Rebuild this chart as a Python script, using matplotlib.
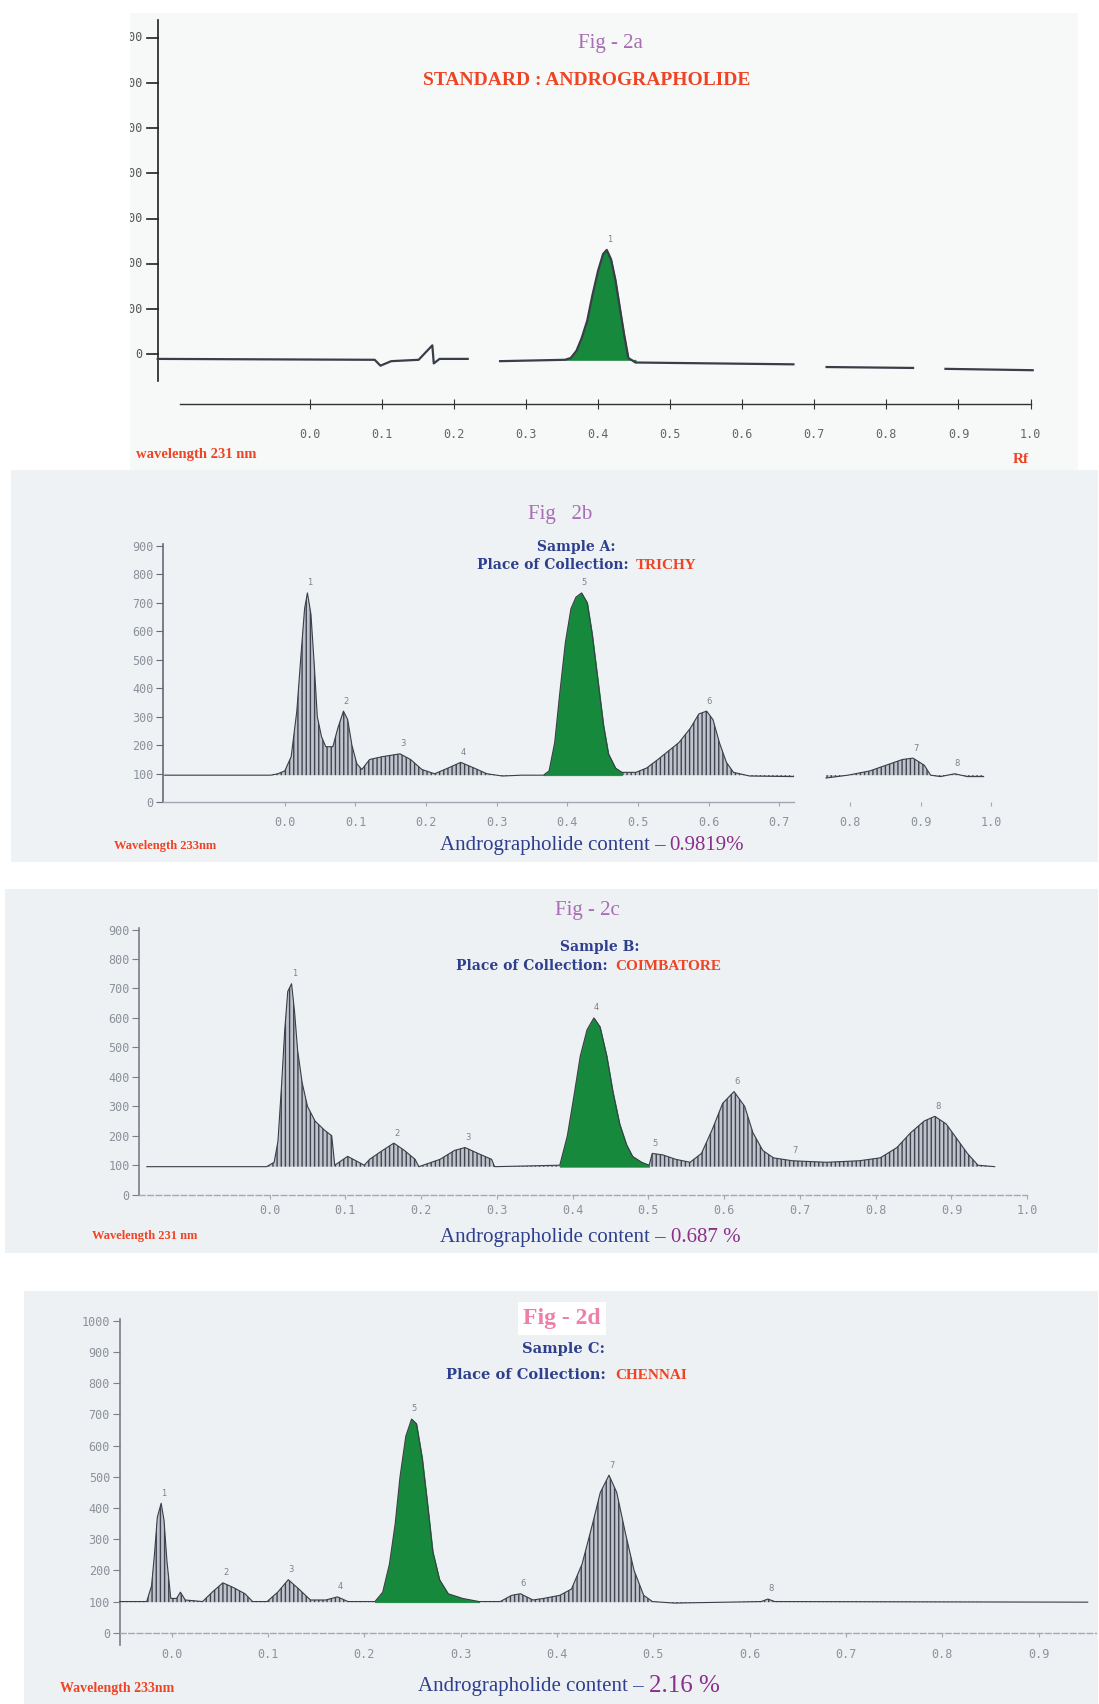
import numpy as np
import matplotlib.pyplot as plt
from matplotlib.patches import Rectangle

plt.rcParams['hatch.linewidth'] = 1.0
plt.rcParams['hatch.color'] = '#3f4450'

nan = np.nan

# ---------------- data ----------------
rf_ticks = [0.0, 0.1, 0.2, 0.3, 0.4, 0.5, 0.6, 0.7, 0.8, 0.9, 1.0]

# fig 2a - standard andrographolide (nan = gap in the trace)
a_rf = [-0.211, 0.09, 0.098, 0.113, 0.151, 0.17, 0.172, 0.18, 0.219, 0.22, 0.264, 0.354,
        0.362, 0.37, 0.377, 0.385, 0.392, 0.40, 0.407, 0.412, 0.418, 0.424, 0.43, 0.436, 0.442,
        0.452, 0.671, 0.69, 0.717, 0.837, 0.86, 0.882, 1.003]
a_sig = [-10, -12, -25, -15, -12, 20, -20, -10, -10, nan, -15, -12,
         -8, 8, 35, 75, 130, 185, 222, 231, 210, 165, 105, 45, -8,
         -18, -22, nan, -28, -30, nan, -32, -35]
a_green = (0.354, 0.452)
a_yticks = [0, 100, 200, 300, 400, 500, 600, 700]
a_pk_rf, a_pk_sig = [0.412], [231]

# fig 2b - sample A, Trichy
b_rf = [-0.17, -0.02, -0.01, 0.0, 0.009, 0.017, 0.023, 0.028, 0.032, 0.037, 0.042, 0.046,
        0.052, 0.058, 0.068, 0.075, 0.083, 0.089, 0.095, 0.102, 0.109, 0.12, 0.138, 0.163,
        0.178, 0.194, 0.212, 0.231, 0.249, 0.268, 0.286, 0.308, 0.335, 0.366, 0.374, 0.382,
        0.389, 0.397, 0.405, 0.412, 0.42, 0.428, 0.435, 0.443, 0.451, 0.458, 0.468, 0.477,
        0.497, 0.512, 0.528, 0.543, 0.558, 0.574, 0.586, 0.597, 0.606, 0.615, 0.625, 0.635,
        0.658, 0.72, 0.74, 0.766, 0.797, 0.828, 0.851, 0.874, 0.889, 0.905, 0.914, 0.928,
        0.948, 0.966, 0.989]
b_sig = [95, 95, 100, 110, 160, 320, 520, 680, 735, 660, 470, 300,
         230, 195, 195, 260, 320, 290, 200, 135, 115, 150, 160, 170,
         150, 115, 100, 120, 140, 120, 100, 92, 95, 95, 110, 210,
         380, 560, 680, 720, 735, 700, 590, 430, 270, 170, 120, 105,
         105, 120, 150, 180, 210, 260, 310, 320, 290, 210, 140, 105,
         92, 90, nan, 85, 95, 110, 130, 150, 155, 130, 95, 90,
         100, 90, 90]
b_green = (0.366, 0.477)
b_yticks = [0, 100, 200, 300, 400, 500, 600, 700, 800, 900]
b_pk_rf = [0.032, 0.083, 0.163, 0.249, 0.42, 0.597, 0.889, 0.948]
b_pk_sig = [735, 320, 170, 140, 735, 320, 155, 100]

# fig 2c - sample B, Coimbatore
c_rf = [-0.162, -0.004, 0.006, 0.011, 0.016, 0.02, 0.024, 0.029, 0.033, 0.037, 0.043, 0.05,
        0.06, 0.072, 0.082, 0.086, 0.103, 0.125, 0.132, 0.149, 0.164, 0.178, 0.192, 0.197,
        0.225, 0.244, 0.258, 0.275, 0.293, 0.297, 0.383, 0.393, 0.402, 0.41, 0.419, 0.428,
        0.436, 0.445, 0.453, 0.462, 0.471, 0.479, 0.491, 0.501, 0.505, 0.519, 0.536, 0.555,
        0.57, 0.584, 0.598, 0.613, 0.627, 0.638, 0.651, 0.665, 0.69, 0.735, 0.778, 0.806,
        0.828, 0.846, 0.864, 0.878, 0.893, 0.907, 0.921, 0.935, 0.957]
c_sig = [95, 95, 110, 180, 380, 560, 690, 716, 620, 490, 380, 300,
         250, 220, 200, 100, 130, 100, 120, 150, 175, 150, 120, 95,
         120, 150, 160, 140, 120, 95, 100, 200, 340, 470, 560, 600,
         570, 470, 350, 240, 170, 130, 110, 100, 140, 135, 120, 110,
         140, 220, 310, 350, 300, 210, 150, 125, 115, 110, 115, 125,
         160, 210, 250, 266, 240, 190, 140, 100, 95]
c_green = (0.383, 0.501)
c_yticks = [0, 100, 200, 300, 400, 500, 600, 700, 800, 900]
c_pk_rf = [0.029, 0.164, 0.258, 0.428, 0.505, 0.613, 0.69, 0.878]
c_pk_sig = [716, 175, 160, 600, 140, 350, 115, 266]

# fig 2d - sample C, Chennai
d_rf = [-0.054, -0.026, -0.021, -0.018, -0.015, -0.011, -0.008, -0.005, -0.001, 0.005, 0.009,
        0.014, 0.032, 0.042, 0.053, 0.064, 0.076, 0.084, 0.099, 0.11, 0.121, 0.132, 0.144,
        0.16, 0.172, 0.183, 0.211, 0.219, 0.226, 0.232, 0.237, 0.243, 0.249, 0.254, 0.26,
        0.266, 0.271, 0.278, 0.287, 0.302, 0.319, 0.341, 0.353, 0.362, 0.375, 0.386, 0.403,
        0.415, 0.426, 0.437, 0.445, 0.454, 0.462, 0.471, 0.48, 0.49, 0.499, 0.522, 0.612,
        0.619, 0.626, 0.951]
d_sig = [100, 100, 150, 250, 370, 415, 360, 230, 110, 110, 130,
         105, 100, 130, 160, 145, 125, 100, 100, 130, 170, 140, 105,
         105, 115, 100, 100, 130, 220, 350, 500, 630, 685, 670, 560,
         400, 260, 170, 125, 110, 100, 100, 120, 125, 105, 110, 120,
         140, 220, 350, 450, 505, 450, 320, 200, 120, 100, 95, 100,
         108, 100, 98]
d_green = (0.211, 0.319)
d_yticks = [0, 100, 200, 300, 400, 500, 600, 700, 800, 900, 1000]
d_pk_rf = [-0.011, 0.053, 0.121, 0.172, 0.249, 0.362, 0.454, 0.619]
d_pk_sig = [415, 160, 170, 115, 685, 125, 505, 108]

# ---------------- colours ----------------
GREEN = '#17893c'
RED = '#ee4424'
BLUE = '#2e3f8e'
PURPLE = '#a86db4'
CONTENT = '#8a2e8a'
TICK = '#8c919b'

W, H = 1099, 1704
S = 1099 / 1011  # layout was measured on the 1011 px wide preview

fig = plt.figure(figsize=(W / 100, H / 100), dpi=100)
fig.patch.set_facecolor('white')


def ftext(x, y, s, **kw):
    kw.setdefault('va', 'center')
    return fig.text(x * S / W, 1 - y * S / H, s, **kw)


def add_panel(bx0, by0, bx1, by1, x_rf0, px_rf, y_v0, px_v, color):
    pos = [bx0 * S / W, 1 - by1 * S / H, (bx1 - bx0) * S / W, (by1 - by0) * S / H]
    # background card, kept under the axes
    fig.patches.append(Rectangle(pos[:2], pos[2], pos[3], transform=fig.transFigure,
                                 facecolor=color, edgecolor='none', zorder=-5))
    ax = fig.add_axes(pos)
    ax.set_facecolor('none')
    ax.set_xlim((bx0 - x_rf0) / px_rf, (bx1 - x_rf0) / px_rf)
    ax.set_ylim((y_v0 - by1) / px_v, (y_v0 - by0) / px_v)
    for s in ax.spines.values():
        s.set_visible(False)
    return ax


def axes_lines(ax, y_at, ybounds, yticks, x_at, xbounds, ycol, xcol, xpad, xls='-'):
    sp = ax.spines['left']
    sp.set_visible(True)
    sp.set_position(('data', y_at))
    sp.set_bounds(*ybounds)
    sp.set_color(ycol)
    sp.set_linewidth(1.2)
    sp = ax.spines['bottom']
    sp.set_visible(True)
    sp.set_position(('data', x_at))
    sp.set_bounds(*xbounds)
    sp.set_color(xcol)
    sp.set_linestyle(xls)
    sp.set_linewidth(1.0)
    lo, hi = ax.get_xlim()
    xt = [t for t in rf_ticks if lo < t < hi - 0.01]
    ax.set_xticks(xt)
    ax.set_xticklabels([f'{t:.1f}' for t in xt])
    ax.tick_params(axis='x', length=3, color=xcol, pad=xpad, labelsize=8.5, labelcolor=TICK)
    ax.tick_params(axis='y', length=5, color=ycol, pad=2, labelsize=8.5, labelcolor=TICK)
    if yticks is not None:
        ax.set_yticks(yticks)
    else:
        ax.set_yticks([])
    for lab in ax.get_xticklabels() + ax.get_yticklabels():
        lab.set_family('DejaVu Sans Mono')


def trace(ax, rf, sig, base, green, pk_rf, pk_sig, lw=0.8, hatch=True):
    rf = np.array(rf, dtype=float)
    sig = np.array(sig, dtype=float)
    ing = (rf >= green[0]) & (rf <= green[1])
    if hatch:
        ax.fill_between(rf, base, sig, where=~ing | (rf == green[0]) | (rf == green[1]),
                        facecolor='#bfc3cc', edgecolor='#3f4450', hatch='||||',
                        linewidth=0, zorder=2)
    ax.fill_between(rf, base, sig, where=ing, facecolor=GREEN, edgecolor=GREEN,
                    linewidth=0.6, zorder=3)
    ax.plot(rf, sig, color='#3a3e48', lw=lw, zorder=4)
    for i, (r, v) in enumerate(zip(pk_rf, pk_sig)):
        ax.annotate(str(i + 1), (r, v), xytext=(2, 4), textcoords='offset points',
                    fontsize=6, color='#7d828c', ha='center', va='bottom', zorder=5)


# ---------------- Fig 2a ----------------
ax = add_panel(120, 12, 992, 432, 285, 663, 326, 0.416, '#f7f8f8')
axes_lines(ax, -0.211, (-58, 740), None, -110, (-0.18, 1.0), '#222222', '#333333', 14)
ax.tick_params(axis='x', direction='inout', length=7, labelcolor='#666666')
for v in a_yticks:
    ax.plot([-0.226, -0.211], [v, v], color='#222222', lw=1.2)
    ax.text(0.013, v, str(v), transform=ax.get_yaxis_transform(), ha='right', va='center',
            fontsize=8.5, color='#555555', family='DejaVu Sans Mono', clip_on=True)
trace(ax, a_rf, a_sig, -12, a_green, a_pk_rf, a_pk_sig, lw=1.6, hatch=False)
ftext(562, 40, 'Fig - 2a', color=PURPLE, fontsize=15, family='Liberation Serif', ha='center')
ftext(540, 74, 'STANDARD : ANDROGRAPHOLIDE', color=RED, fontsize=14, fontweight='bold',
      family='Liberation Serif', ha='center')
ftext(125, 418, 'wavelength 231 nm', color=RED, fontsize=10.5, fontweight='bold',
      family='Liberation Serif', ha='left')
ftext(932, 423, 'Rf', color=RED, fontsize=11, fontweight='bold', family='Liberation Serif',
      ha='left')

# ---------------- Fig 2b ----------------
ax = add_panel(10, 432, 1010, 793, 262, 650, 738, 0.262, '#eef2f4')
axes_lines(ax, -0.172, (0, 905), b_yticks, 0, (-0.172, 0.72), '#666a73', '#a3a8b2', 7)
trace(ax, b_rf, b_sig, 95, b_green, b_pk_rf, b_pk_sig)
ftext(515, 473, 'Fig   2b', color=PURPLE, fontsize=15, family='Liberation Serif', ha='center')
ftext(530, 503, 'Sample A:', color=BLUE, fontsize=10, fontweight='bold', family='DejaVu Serif',
      ha='center')
ftext(583, 520, 'Place of Collection: ', color=BLUE, fontsize=10, fontweight='bold',
      family='DejaVu Serif', ha='right')
ftext(585, 520, 'TRICHY', color=RED, fontsize=11, fontweight='bold', family='Liberation Serif',
      ha='left')
ftext(105, 778, 'Wavelength 233nm', color=RED, fontsize=9, fontweight='bold',
      family='Liberation Serif', ha='left')
ftext(612, 778, 'Andrographolide content \u2013', color=BLUE, fontsize=15,
      family='Liberation Serif', ha='right')
ftext(616, 778, '0.9819%', color=CONTENT, fontsize=15, family='Liberation Serif', ha='left')

# ---------------- Fig 2c ----------------
ax = add_panel(5, 818, 1010, 1153, 248, 697, 1099, 0.271, '#eef1f3')
axes_lines(ax, -0.172, (0, 905), c_yticks, 0, (-0.172, 1.0), '#7a7f88', '#a3a8b2', 4, xls=(0, (4, 2)))
trace(ax, c_rf, c_sig, 95, c_green, c_pk_rf, c_pk_sig)
ftext(540, 838, 'Fig - 2c', color=PURPLE, fontsize=15, family='Liberation Serif', ha='center')
ftext(552, 871, 'Sample B:', color=BLUE, fontsize=10, fontweight='bold', family='DejaVu Serif',
      ha='center')
ftext(563, 889, 'Place of Collection: ', color=BLUE, fontsize=10, fontweight='bold',
      family='DejaVu Serif', ha='right')
ftext(566, 889, 'COIMBATORE', color=RED, fontsize=11, fontweight='bold',
      family='Liberation Serif', ha='left')
ftext(85, 1137, 'Wavelength 231 nm', color=RED, fontsize=9, fontweight='bold',
      family='Liberation Serif', ha='left')
ftext(612, 1138, 'Andrographolide content \u2013', color=BLUE, fontsize=15,
      family='Liberation Serif', ha='right')
ftext(617, 1138, '0.687 %', color=CONTENT, fontsize=15, family='Liberation Serif', ha='left')

# ---------------- Fig 2d ----------------
ax = add_panel(22, 1188, 1010, 1568, 158, 886, 1502, 0.287, '#eef1f3')
axes_lines(ax, -0.054, (-40, 1005), d_yticks, 0, (-0.054, 0.96), '#7a7f88', '#a3a8b2', 8, xls=(0, (4, 2)))
trace(ax, d_rf, d_sig, 98, d_green, d_pk_rf, d_pk_sig)
ftext(517, 1213, 'Fig - 2d', color='#ef7fa8', fontsize=17, fontweight='bold',
      family='Liberation Serif', ha='center',
      bbox=dict(facecolor='white', edgecolor='none', pad=4))
ftext(518, 1241, 'Sample C:', color=BLUE, fontsize=10.5, fontweight='bold',
      family='DejaVu Serif', ha='center')
ftext(562, 1265, 'Place of Collection: ', color=BLUE, fontsize=10.5, fontweight='bold',
      family='DejaVu Serif', ha='right')
ftext(566, 1265, 'CHENNAI', color=RED, fontsize=11, fontweight='bold',
      family='Liberation Serif', ha='left')
ftext(55, 1553, 'Wavelength 233nm', color=RED, fontsize=10, fontweight='bold',
      family='Liberation Serif', ha='left')
ftext(592, 1551, 'Andrographolide content \u2013', color=BLUE, fontsize=15,
      family='Liberation Serif', ha='right')
ftext(597, 1551, '2.16 %', color=CONTENT, fontsize=18, family='Liberation Serif', ha='left')

fig.savefig('out.png', dpi=100, facecolor='white')
